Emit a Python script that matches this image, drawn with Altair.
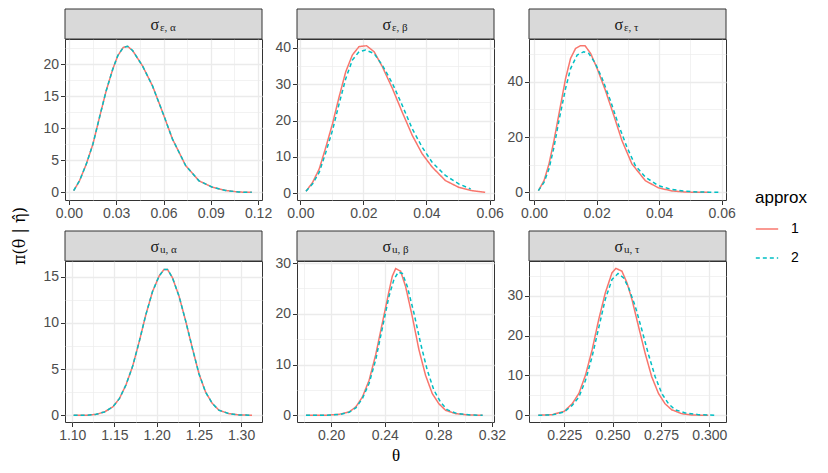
import json
import altair as alt
import pandas as pd

# ---------------- data ----------------
APPROX = ["1", "2"]
COLORS = ["#F8766D", "#00BFC4"]
STRIP_SYM = "σ"
STRIP_SUB = ["ε, α", "ε, β", "ε, τ", "u, α", "u, β", "u, τ"]

# sigma_eps,alpha (both approximations coincide)
ea_x = [0.003, 0.0067, 0.011, 0.0152, 0.0194, 0.0236, 0.0278, 0.031, 0.0345, 0.0373, 0.0404,
        0.0467, 0.053, 0.0594, 0.0657, 0.074, 0.0825, 0.091, 0.0994, 0.1078, 0.116]
ea_y = [0.26, 1.8, 4.4, 7.5, 11.7, 15.8, 19.2, 21.3, 22.6, 22.75, 22.1,
        19.7, 16.6, 12.5, 8.3, 4.2, 1.8, 0.8, 0.3, 0.05, 0.0]

# sigma_eps,beta
eb1_x = [0.0018, 0.0039, 0.006, 0.0081, 0.0102, 0.0123, 0.0144, 0.0165, 0.0186, 0.021, 0.0234,
         0.026, 0.0292, 0.0323, 0.0355, 0.0386, 0.0418, 0.046, 0.0502, 0.0544, 0.0586]
eb1_y = [0.55, 3.0, 6.7, 12.7, 19.1, 26.5, 33.4, 38.0, 40.3, 40.55, 38.9,
         34.8, 28.8, 22.3, 15.9, 10.9, 7.2, 3.5, 1.65, 0.74, 0.28]
eb2_x = [0.0018, 0.0039, 0.006, 0.0081, 0.0102, 0.0123, 0.0144, 0.0165, 0.0186, 0.0207, 0.0234,
         0.026, 0.0292, 0.0323, 0.0355, 0.0386, 0.0418, 0.046, 0.0502, 0.054]
eb2_y = [0.55, 2.6, 5.8, 11.3, 17.3, 24.6, 31.5, 36.6, 38.9, 39.35, 38.4,
         35.2, 30.2, 24.2, 17.7, 12.7, 8.5, 4.9, 2.6, 1.2]

# sigma_eps,tau
et1_x = [0.0014, 0.0032, 0.0048, 0.0064, 0.008, 0.0101, 0.0117, 0.0133, 0.0149, 0.0163, 0.0181,
         0.0202, 0.0228, 0.0255, 0.0281, 0.0313, 0.0356, 0.0398, 0.0441, 0.0483, 0.0526, 0.0558]
et1_y = [0.6, 4.2, 10.3, 18.8, 28.5, 41.2, 48.5, 52.1, 53.1, 53.1, 50.3,
         44.8, 37.0, 27.9, 18.8, 10.3, 4.2, 1.6, 0.5, 0.1, 0.0, 0.0]
et2_x = [0.0014, 0.0032, 0.0048, 0.0064, 0.008, 0.0101, 0.0117, 0.0138, 0.0159, 0.0175, 0.0196,
         0.0218, 0.0244, 0.0271, 0.0297, 0.0324, 0.0356, 0.0398, 0.0441, 0.0483, 0.0526, 0.059]
et2_y = [0.6, 3.6, 8.5, 16.4, 26.1, 37.6, 44.8, 49.7, 50.9, 50.3, 46.7,
         41.2, 33.3, 24.2, 16.4, 9.7, 5.5, 2.4, 1.0, 0.4, 0.1, 0.0]

# sigma_u,alpha (both approximations coincide)
ua_x = [1.1016, 1.1165, 1.1283, 1.1381, 1.148, 1.1558, 1.1637, 1.1715, 1.1794, 1.1872, 1.1951,
        1.203, 1.2088, 1.2128, 1.2187, 1.2265, 1.2344, 1.2422, 1.2501, 1.258, 1.2658, 1.2737,
        1.2855, 1.2973, 1.313]
ua_y = [0.0, 0.0, 0.1, 0.36, 0.9, 1.8, 3.3, 5.3, 8.0, 10.9, 13.4,
        15.1, 15.8, 15.8, 14.9, 12.9, 10.2, 7.3, 4.5, 2.5, 1.3, 0.55,
        0.18, 0.04, 0.0]

# sigma_u,beta
ub1_x = [0.1812, 0.196, 0.206, 0.2134, 0.2184, 0.2233, 0.2283, 0.2332, 0.2382, 0.2432, 0.2456,
         0.2481, 0.2518, 0.2555, 0.2605, 0.2655, 0.2704, 0.2754, 0.2803, 0.2853, 0.2927, 0.3026, 0.313]
ub1_y = [0.0, 0.0, 0.2, 0.66, 1.65, 3.6, 6.9, 11.9, 18.2, 24.5, 27.4,
         28.9, 28.4, 25.4, 19.5, 12.9, 7.9, 4.3, 2.3, 1.0, 0.33, 0.07, 0.0]
ub2_x = [0.1812, 0.196, 0.206, 0.2134, 0.2184, 0.2233, 0.2283, 0.2332, 0.2382, 0.2432, 0.2469,
         0.2501, 0.2531, 0.2568, 0.2617, 0.2667, 0.2717, 0.2766, 0.2816, 0.2865, 0.294, 0.3039, 0.313]
ub2_y = [0.0, 0.0, 0.15, 0.6, 1.45, 3.3, 6.3, 10.9, 17.2, 23.5, 26.8,
         28.2, 27.95, 25.4, 20.2, 14.2, 8.9, 5.0, 2.6, 1.1, 0.33, 0.07, 0.0]

# sigma_u,tau
ut1_x = [0.2116, 0.2188, 0.225, 0.2291, 0.2326, 0.236, 0.2394, 0.2428, 0.2462, 0.2497, 0.2517,
         0.2548, 0.2574, 0.26, 0.2634, 0.2668, 0.2702, 0.2737, 0.2771, 0.2805, 0.2856, 0.2908, 0.2994]
ut1_y = [0.0, 0.17, 1.0, 2.9, 5.5, 10.1, 16.4, 24.0, 30.7, 35.8, 36.9,
         36.2, 33.3, 29.1, 22.3, 15.6, 9.7, 5.5, 2.9, 1.4, 0.42, 0.08, 0.0]
ut2_x = [0.2116, 0.2188, 0.225, 0.2291, 0.2326, 0.236, 0.2394, 0.2428, 0.2462, 0.2497, 0.2528,
         0.2557, 0.2583, 0.2617, 0.2651, 0.2686, 0.272, 0.2754, 0.2789, 0.2823, 0.2875, 0.2943, 0.3037]
ut2_y = [0.0, 0.1, 0.85, 2.5, 4.6, 8.8, 14.7, 21.9, 29.1, 34.1, 35.6,
         34.5, 32.0, 27.4, 21.5, 15.2, 9.7, 5.5, 2.9, 1.4, 0.6, 0.17, 0.0]

# ---------------- axes per panel ----------------
PANELS = [
    dict(s1=(ea_x, ea_y), s2=(ea_x, ea_y), xdom=[-0.0025, 0.1225], ydom=[-1.19, 23.9],
         xmaj=[0, 0.03, 0.06, 0.09, 0.12], xmin=[0.015, 0.045, 0.075, 0.105], xfmt=".2f",
         ymaj=[0, 5, 10, 15, 20], ymin=[2.5, 7.5, 12.5, 17.5, 22.5]),
    dict(s1=(eb1_x, eb1_y), s2=(eb2_x, eb2_y), xdom=[-0.00105, 0.0614], ydom=[-1.84, 42.4],
         xmaj=[0, 0.02, 0.04, 0.06], xmin=[0.01, 0.03, 0.05], xfmt=".2f",
         ymaj=[0, 10, 20, 30, 40], ymin=[5, 15, 25, 35]),
    dict(s1=(et1_x, et1_y), s2=(et2_x, et2_y), xdom=[-0.0016, 0.0614], ydom=[-2.79, 55.5],
         xmaj=[0, 0.02, 0.04, 0.06], xmin=[0.01, 0.03, 0.05], xfmt=".2f",
         ymaj=[0, 20, 40], ymin=[10, 30, 50]),
    dict(s1=(ua_x, ua_y), s2=(ua_x, ua_y), xdom=[1.0914, 1.3248], ydom=[-0.73, 16.71],
         xmaj=[1.10, 1.15, 1.20, 1.25, 1.30], xmin=[1.125, 1.175, 1.225, 1.275], xfmt=".2f",
         ymaj=[0, 5, 10, 15], ymin=[2.5, 7.5, 12.5]),
    dict(s1=(ub1_x, ub1_y), s2=(ub2_x, ub2_y), xdom=[0.1745, 0.3215], ydom=[-1.32, 30.4],
         xmaj=[0.20, 0.24, 0.28, 0.32], xmin=[0.18, 0.22, 0.26, 0.30], xfmt=".2f",
         ymaj=[0, 10, 20, 30], ymin=[5, 15, 25]),
    dict(s1=(ut1_x, ut1_y), s2=(ut2_x, ut2_y), xdom=[0.2068, 0.3086], ydom=[-1.68, 38.75],
         xmaj=[0.225, 0.250, 0.275, 0.300], xmin=[0.2125, 0.2375, 0.2625, 0.2875], xfmt=".3f",
         ymaj=[0, 10, 20, 30], ymin=[5, 15, 25, 35]),
]

W = 197
H = 161
STRIP_H = 30
SANS = "Liberation Sans"
SERIF = "Liberation Serif"


def make_axis(maj, mnr, fmt, title=None):
    arr = json.dumps(maj)
    test = f"indexof({arr}, datum.value) >= 0"
    kw = dict(
        values=sorted(maj + mnr),
        labelExpr=f"{test} ? format(datum.value, '{fmt}') : ''",
        gridWidth={"condition": {"test": test, "value": 1.3}, "value": 0.65},
        tickOpacity={"condition": {"test": test, "value": 1}, "value": 0},
        labelOverlap=False,
    )
    if title is not None:
        kw["title"] = title
    return alt.Axis(**kw)


legend_kw = dict(
    title="approx", orient="none", legendX=690, legendY=151,
)

panels = []
for i, p in enumerate(PANELS):
    x1, y1 = p["s1"]
    x2, y2 = p["s2"]
    df = pd.DataFrame({
        "theta": list(x1) + list(x2),
        "dens": list(y1) + list(y2),
        "approx": [APPROX[0]] * len(x1) + [APPROX[1]] * len(x2),
    })
    xtitle = "θ" if i == 4 else None
    lines = alt.Chart(df).mark_line(strokeWidth=1.5).encode(
        x=alt.X("theta:Q", scale=alt.Scale(domain=p["xdom"], nice=False, zero=False),
                axis=make_axis(p["xmaj"], p["xmin"], p["xfmt"], xtitle if xtitle else None),
                title=xtitle),
        y=alt.Y("dens:Q", scale=alt.Scale(domain=p["ydom"], nice=False, zero=False),
                axis=make_axis(p["ymaj"], p["ymin"], "d"), title=None),
        color=alt.Color("approx:N", scale=alt.Scale(domain=APPROX, range=COLORS),
                        legend=alt.Legend(**legend_kw)),
        strokeDash=alt.StrokeDash("approx:N",
                                  scale=alt.Scale(domain=APPROX, range=[[1, 0], [4, 3]]),
                                  legend=alt.Legend(**legend_kw)),
        order=alt.Order("theta:Q"),
    )
    sdf = pd.DataFrame({"sym": [STRIP_SYM], "sub": [STRIP_SUB[i]]})
    strip = alt.Chart(sdf).mark_rect(fill="#D9D9D9", stroke="#333333", strokeWidth=1).encode(
        x=alt.value(0), x2=alt.value(W), y=alt.value(-STRIP_H), y2=alt.value(0))
    sym = alt.Chart(sdf).mark_text(align="left", baseline="middle", font=SERIF, fontSize=16,
                                   color="#1A1A1A").encode(
        x=alt.value(W / 2 - 13), y=alt.value(-14), text="sym:N")
    sub = alt.Chart(sdf).mark_text(align="left", baseline="middle", font=SERIF, fontSize=11,
                                   color="#1A1A1A").encode(
        x=alt.value(W / 2 - 3.5), y=alt.value(-11), text="sub:N")
    panels.append(alt.layer(lines, strip, sym, sub).properties(width=W, height=H))

chart = alt.concat(*panels, columns=3, spacing={"row": 61, "column": 35}, bounds="flush").resolve_scale(
    x="independent", y="independent", color="shared", strokeDash="shared"
).resolve_axis(x="independent", y="independent").properties(
    title=alt.TitleParams(text="π(θ | η\u0302)", orient="left", anchor="middle", font="DejaVu Serif",
                          fontSize=16, fontWeight="normal", color="black", offset=14),
    padding={"left": 4, "top": 0, "right": 5, "bottom": 5},
).configure_view(
    stroke="#333333", strokeWidth=1, fill="white"
).configure_axis(
    domain=False, gridColor="#EBEBEB", labelColor="#4D4D4D", labelFont=SANS,
    labelFontSize=14, tickColor="#333333", tickSize=4.5, tickWidth=1, labelPadding=2,
    titleFont=SERIF, titleFontSize=17, titleFontWeight="normal", titleColor="black",
    titlePadding=5,
).configure_legend(
    titleFont=SANS, titleFontSize=17, titleFontWeight="normal", titleColor="black",
    labelFont=SANS, labelFontSize=14, labelColor="black", symbolType="stroke",
    symbolSize=500, symbolStrokeWidth=1.5, labelOffset=12, rowPadding=10, titlePadding=10,
)

chart.save("out.html", embed_options={"renderer": "svg", "actions": False})
